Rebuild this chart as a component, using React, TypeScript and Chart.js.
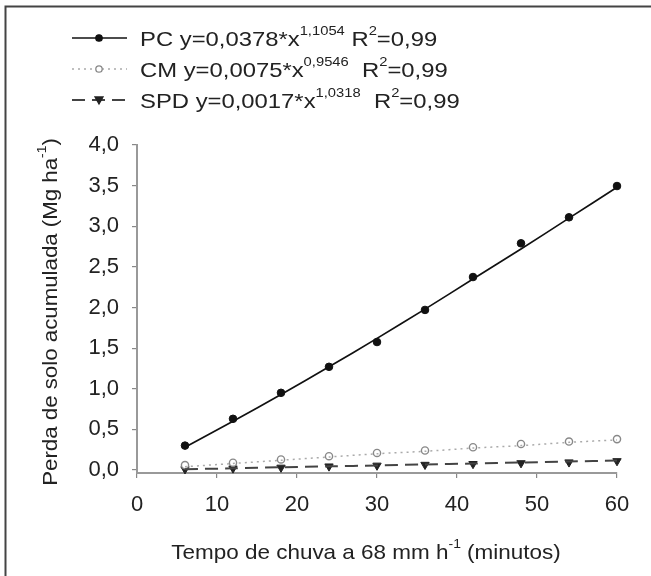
import React, { useEffect, useRef } from "react";
import { Chart, registerables } from "chart.js";

Chart.register(...registerables);

const minutes = [6, 12, 18, 24, 30, 36, 42, 48, 54, 60];
const pcObserved = [0.3, 0.63, 0.95, 1.27, 1.575, 1.97, 2.375, 2.79, 3.11, 3.495];
const cmObserved = [0.06, 0.09, 0.13, 0.17, 0.21, 0.24, 0.28, 0.32, 0.35, 0.38];
const spdObserved = [0.01, 0.02, 0.03, 0.045, 0.055, 0.065, 0.075, 0.085, 0.095, 0.11];
const pcFit = [0.28, 0.6, 0.93, 1.27, 1.62, 1.98, 2.35, 2.72, 3.1, 3.48];
const cmFit = [0.04, 0.08, 0.12, 0.16, 0.2, 0.23, 0.27, 0.3, 0.34, 0.37];
const spdFit = [0.01, 0.02, 0.034, 0.045, 0.056, 0.069, 0.08, 0.092, 0.104, 0.116];

const seriesNames = ["PC", "CM", "SPD"];
const coefficients = ["0,0378", "0,0075", "0,0017"];
const exponents = ["1,1054", "0,9546", "1,0318"];
const r2Values = ["0,99", "0,99", "0,99"];

const yTickValues = [0, 0.5, 1, 1.5, 2, 2.5, 3, 3.5, 4];
const xTickValues = [0, 10, 20, 30, 40, 50, 60];

const yTitleMain = "Perda de solo acumulada (Mg ha";
const yTitleSup = "-1";
const yTitleEnd = ")";
const xTitleMain = "Tempo de chuva a 68 mm h";
const xTitleSup = "-1";
const xTitleEnd = " (minutos)";

const FONT = "Arial, 'Liberation Sans', sans-serif";

const styles = [
  { color: "#111", dash: [] as number[], width: 1.7, marker: "circle", fill: "#111", border: "#111" },
  { color: "#aaa", dash: [2, 4], width: 1.5, marker: "circle", fill: "#fff", border: "#888" },
  { color: "#444", dash: [13, 7], width: 2, marker: "triangle", fill: "#222", border: "#222" },
];

type Seg = { t: string; sup?: boolean };

function segWidth(ctx: CanvasRenderingContext2D, segs: Seg[], size: number) {
  let w = 0;
  for (const s of segs) {
    ctx.font = s.sup ? `${Math.round(size * 0.6)}px ${FONT}` : `${size}px ${FONT}`;
    w += ctx.measureText(s.t).width;
  }
  return w;
}

function drawSegs(ctx: CanvasRenderingContext2D, segs: Seg[], size: number) {
  let cx = 0;
  for (const s of segs) {
    if (s.sup) {
      ctx.font = `${Math.round(size * 0.6)}px ${FONT}`;
      ctx.fillText(s.t, cx, -size * 0.42);
    } else {
      ctx.font = `${size}px ${FONT}`;
      ctx.fillText(s.t, cx, 0);
    }
    cx += ctx.measureText(s.t).width;
  }
}

const decorPlugin = {
  id: "decor",
  afterDraw(chart: any) {
    const ctx: CanvasRenderingContext2D = chart.ctx;
    ctx.save();
    ctx.strokeStyle = "#444";
    ctx.lineWidth = 2;
    ctx.beginPath();
    ctx.moveTo(651, 6.5);
    ctx.lineTo(5.5, 6.5);
    ctx.lineTo(5.5, 576);
    ctx.stroke();

    const rows = [38, 69, 100];
    ctx.textBaseline = "middle";
    ctx.textAlign = "left";
    seriesNames.forEach((name, i) => {
      const st = styles[i];
      const y = rows[i];
      ctx.strokeStyle = st.color;
      ctx.lineWidth = st.width;
      ctx.setLineDash(st.dash);
      ctx.beginPath();
      ctx.moveTo(72, y);
      ctx.lineTo(127, y);
      ctx.stroke();
      ctx.setLineDash([]);
      ctx.fillStyle = st.fill;
      ctx.strokeStyle = st.border;
      ctx.lineWidth = 1.3;
      ctx.beginPath();
      if (st.marker === "circle") {
        ctx.arc(99, y, 3.2, 0, Math.PI * 2);
      } else {
        ctx.moveTo(95, y - 3);
        ctx.lineTo(103, y - 3);
        ctx.lineTo(99, y + 4);
        ctx.closePath();
      }
      ctx.fill();
      ctx.stroke();
      ctx.fillStyle = "#222";
      const gap = i === 0 ? " " : "  ";
      const segs: Seg[] = [
        { t: `${name} y=${coefficients[i]}*x` },
        { t: exponents[i], sup: true },
        { t: `${gap}R` },
        { t: "2", sup: true },
        { t: `=${r2Values[i]}` },
      ];
      ctx.save();
      ctx.translate(140, y + 2);
      ctx.scale(1.135, 1);
      drawSegs(ctx, segs, 21);
      ctx.restore();
    });

    ctx.fillStyle = "#222";
    const ySegs: Seg[] = [{ t: yTitleMain }, { t: yTitleSup, sup: true }, { t: yTitleEnd }];
    ctx.save();
    ctx.translate(51, 312);
    ctx.rotate(-Math.PI / 2);
    const ysx = 1.06;
    const yw = segWidth(ctx, ySegs, 21) * ysx;
    ctx.translate(-yw / 2, 0);
    ctx.scale(ysx, 1);
    drawSegs(ctx, ySegs, 21);
    ctx.restore();

    const xSegs: Seg[] = [{ t: xTitleMain }, { t: xTitleSup, sup: true }, { t: xTitleEnd }];
    const xsx = 1.07;
    const xw = segWidth(ctx, xSegs, 21) * xsx;
    ctx.save();
    ctx.translate(366 - xw / 2, 553);
    ctx.scale(xsx, 1);
    drawSegs(ctx, xSegs, 21);
    ctx.restore();
    ctx.restore();
  },
};

export default function App() {
  const ref = useRef<HTMLCanvasElement>(null);
  useEffect(() => {
    document.body.style.margin = "0";
    const toPts = (ys: number[]) => minutes.map((x, i) => ({ x, y: ys[i] }));
    const chart = new Chart(ref.current!, {
      type: "scatter",
      data: {
        datasets: [
          { data: toPts(pcFit), showLine: true, borderColor: styles[0].color, borderWidth: styles[0].width, pointRadius: 0, clip: false, tension: 0.3 },
          { data: toPts(cmFit), showLine: true, borderColor: styles[1].color, borderWidth: styles[1].width, borderDash: styles[1].dash, pointRadius: 0, clip: false, tension: 0.3 },
          { data: toPts(spdFit), showLine: true, borderColor: styles[2].color, borderWidth: styles[2].width, borderDash: styles[2].dash, pointRadius: 0, clip: false, tension: 0.3 },
          { data: toPts(pcObserved), showLine: false, pointRadius: 3.8, pointBackgroundColor: "#111", pointBorderColor: "#111", clip: false },
          { data: toPts(cmObserved), showLine: false, pointRadius: 3.6, pointBorderWidth: 1.4, pointBackgroundColor: "#fff", pointBorderColor: "#888", clip: false },
          { data: toPts(spdObserved), showLine: false, pointStyle: "triangle", rotation: 180, pointRadius: 4.8, pointBackgroundColor: "#222", pointBorderColor: "#222", clip: false },
        ],
      },
      options: {
        animation: false,
        responsive: false,
        events: [],
        layout: { padding: { left: 0, right: 34, top: 145, bottom: 0 } },
        plugins: { legend: { display: false }, tooltip: { enabled: false } },
        scales: {
          x: {
            type: "linear",
            min: 0,
            max: 60,
            afterBuildTicks: (s: any) => { s.ticks = xTickValues.map((v) => ({ value: v })); },
            afterFit: (s: any) => { s.height = 103; },
            grid: { display: true, drawOnChartArea: false, drawTicks: true, tickLength: 5, color: "#888", lineWidth: 1.2 },
            border: { display: true, color: "#999", width: 2 },
            ticks: { font: { family: FONT, size: 22 }, color: "#222", padding: 14, maxRotation: 0 },
          },
          y: {
            type: "linear",
            min: -0.037,
            max: 4,
            afterBuildTicks: (s: any) => { s.ticks = yTickValues.map((v) => ({ value: v })); },
            afterFit: (s: any) => { s.width = 137; },
            grid: { display: true, drawOnChartArea: false, drawTicks: true, tickLength: 5, color: "#888", lineWidth: 1.2 },
            border: { display: true, color: "#999", width: 2 },
            ticks: {
              font: { family: FONT, size: 22 },
              color: "#222",
              padding: 13,
              callback: (v: any) => Number(v).toFixed(1).replace(".", ","),
            },
          },
        },
      },
      plugins: [decorPlugin],
    });
    return () => chart.destroy();
  }, []);
  return <canvas ref={ref} width={651} height={576} style={{ display: "block" }} />;
}
